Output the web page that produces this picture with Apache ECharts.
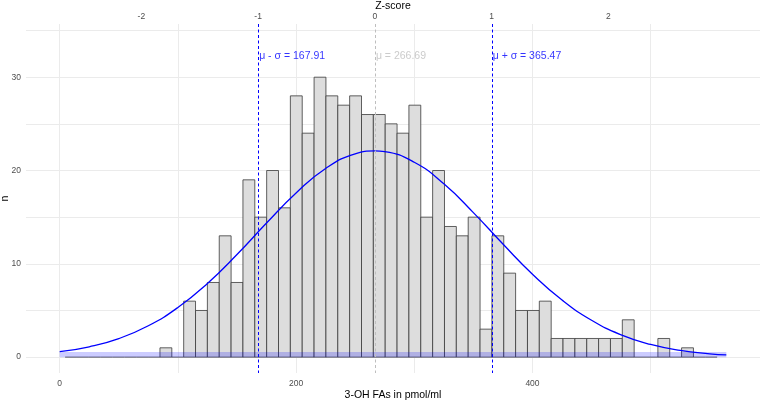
<!DOCTYPE html>
<html>
<head>
<meta charset="utf-8">
<script src="https://cdn.jsdelivr.net/npm/echarts@6/dist/echarts.min.js"></script>
<style>
html,body{margin:0;padding:0;background:#fff;}
#chart{width:761px;height:402px;}
</style>
</head>
<body>
<div id="chart"></div>
<script>
// ---- data ----
var binStart = 4.6;
var binWidth = 10.03;
var binCounts = [0,0,0,0,0,0,0,0,1,0,
                 6,5,8,13,8,19,15,20,16,28,
                 24,30,28,27,28,26,26,25,24,27,
                 15,20,14,13,15,3,13,9,5,5,
                 6,2,2,2,2,2,2,4,0,0,
                 2,0,1,0,0];
var curveX = [0,25,50,75,100,125,150,175,200,225,250,266.69,275,300,325,350,375,400,425,450,475,500,525,550,564];
var curveY = [0.58,1.11,1.99,3.36,5.32,7.90,11.00,14.37,17.59,20.22,21.79,22.10,22.02,20.88,18.57,15.49,12.12,8.89,6.12,3.95,2.39,1.36,0.72,0.36,0.24];
var bandRange = [0, 564, 0.55];
var meanValue = 266.69;
var sdValue = 98.78;
var refValues = [167.91, 266.69, 365.47];
var refLabels = ['\u03bc - \u03c3 = 167.91', '\u03bc = 266.69', '\u03bc + \u03c3 = 365.47'];
var refColors = ['#0000ff', '#bebebe', '#0000ff'];
var refLabelY = 32.3;
var xTicks = [0, 200, 400];
var xGrid = [0, 100, 200, 300, 400, 500];
var yTicks = [0, 10, 20, 30];
var yGrid = [0, 5, 10, 15, 20, 25, 30, 35];
var zTicks = [-2, -1, 0, 1, 2];
var xMin = -28.5, xMax = 592.5, yMin = -1.7, yMax = 35.7;

// ---- build ----
var binData = binCounts.map(function (c, i) {
  return [binStart + i * binWidth, binStart + (i + 1) * binWidth, c];
});
var curveData = curveX.map(function (x, i) { return [x, curveY[i]]; });
var labelData = refValues.map(function (v, i) {
  return { value: [v, refLabelY], name: refLabels[i], label: { color: refColors[i] } };
});
var refLineData = refValues.map(function (v, i) { return [v, i]; });

var tickFont = { color: '#4d4d4d', fontSize: 8.5, fontFamily: 'Liberation Sans, Arial, sans-serif' };
var titleFont = { color: '#000', fontSize: 10.5, fontFamily: 'Liberation Sans, Arial, sans-serif', verticalAlign: 'middle' };

var chart = echarts.init(document.getElementById('chart'), null, { renderer: 'canvas' });
chart.setOption({
  animation: false,
  backgroundColor: '#fff',
  grid: { left: 26, right: 1, top: 24, bottom: 29, containLabel: false, outerBoundsMode: 'none' },
  xAxis: [{
    type: 'value', min: xMin, max: xMax,
    name: '3-OH FAs in pmol/ml', nameLocation: 'middle', nameGap: 22.5, nameMoveOverlap: false,
    nameTextStyle: titleFont,
    axisLine: { show: false },
    axisTick: { show: false, customValues: xGrid },
    axisLabel: Object.assign({ customValues: xTicks, margin: 6 }, tickFont),
    splitLine: { show: true, lineStyle: { color: '#ebebeb', width: 1 } }
  }, {
    type: 'value', position: 'top',
    min: (xMin - meanValue) / sdValue, max: (xMax - meanValue) / sdValue,
    name: 'Z-score', nameLocation: 'middle', nameGap: 18, nameMoveOverlap: false,
    nameTextStyle: titleFont,
    axisLine: { show: false },
    axisTick: { show: false, customValues: zTicks },
    axisLabel: Object.assign({ customValues: zTicks, margin: 3 }, tickFont),
    splitLine: { show: false }
  }],
  yAxis: [{
    type: 'value', min: yMin, max: yMax,
    name: 'n', nameLocation: 'middle', nameGap: 21, nameMoveOverlap: false,
    nameTextStyle: titleFont,
    axisLine: { show: false },
    axisTick: { show: false, customValues: yGrid },
    axisLabel: Object.assign({ customValues: yTicks, margin: 5 }, tickFont),
    splitLine: { show: true, lineStyle: { color: '#ebebeb', width: 1 } }
  }],
  series: [{
    type: 'custom',
    name: 'hist',
    xAxisIndex: 0, yAxisIndex: 0,
    encode: { x: [0, 1], y: 2 },
    data: binData,
    renderItem: function (params, api) {
      var x0 = api.value(0), x1 = api.value(1), c = api.value(2);
      var p0 = api.coord([x0, 0]);
      var p1 = api.coord([x1, c]);
      if (c === 0) {
        return { type: 'line', shape: { x1: p0[0], y1: p0[1], x2: p1[0], y2: p0[1] },
                 style: { stroke: '#3a3a3a', lineWidth: 0.8 } };
      }
      return { type: 'rect',
               shape: { x: p0[0], y: p1[1], width: p1[0] - p0[0], height: p0[1] - p1[1] },
               style: { fill: '#dddddd', stroke: '#3a3a3a', lineWidth: 0.8 } };
    },
    z: 2
  }, {
    type: 'custom',
    name: 'band',
    xAxisIndex: 0, yAxisIndex: 0,
    encode: { x: [0, 1], y: 2 },
    data: [bandRange],
    renderItem: function (params, api) {
      var p0 = api.coord([api.value(0), 0]);
      var p1 = api.coord([api.value(1), api.value(2)]);
      return { type: 'rect',
               shape: { x: p0[0], y: p1[1], width: p1[0] - p0[0], height: p0[1] - p1[1] },
               style: { fill: 'rgba(0,0,255,0.2)' } };
    },
    z: 3
  }, {
    type: 'line',
    name: 'normal',
    xAxisIndex: 0, yAxisIndex: 0,
    data: curveData,
    smooth: true,
    showSymbol: false,
    lineStyle: { color: '#0000ff', width: 1.3 },
    z: 4
  }, {
    type: 'custom',
    name: 'refLines',
    xAxisIndex: 0, yAxisIndex: 0,
    encode: { x: 0 },
    data: refLineData,
    renderItem: function (params, api) {
      var v = api.value(0), idx = api.value(1);
      var top = api.coord([v, yMax]);
      var bot = api.coord([v, yMin]);
      return { type: 'line',
               shape: { x1: Math.round(top[0]) + 0.5, y1: top[1], x2: Math.round(top[0]) + 0.5, y2: bot[1] },
               style: { stroke: refColors[idx], lineWidth: 1, lineDash: [3, 2.5] } };
    },
    z: 5
  }, {
    type: 'scatter',
    name: 'labels',
    xAxisIndex: 0, yAxisIndex: 0,
    symbolSize: 0,
    data: labelData,
    label: {
      show: true, position: 'right', distance: 1,
      formatter: function (p) { return p.name; },
      fontSize: 10.5, fontFamily: 'Liberation Sans, Arial, sans-serif'
    },
    z: 6
  }]
});
</script>
</body>
</html>
